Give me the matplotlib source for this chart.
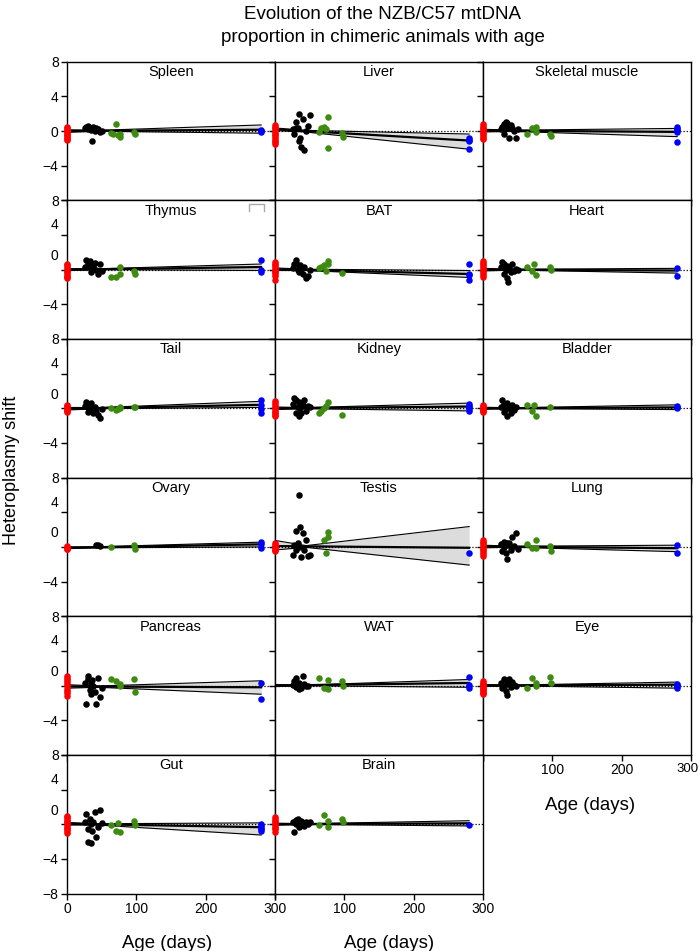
import numpy as np
import matplotlib
matplotlib.use("Agg")
import matplotlib.pyplot as plt
import matplotlib.transforms as mtransforms

# ============================================================
# DATA
# ============================================================
nan = np.nan

# ages (days) shared by the sampled animals
black_age = [26, 28, 30, 31, 33, 34, 35, 36, 38, 40, 42, 44, 47, 50]
green_age = [64, 67, 70, 73, 76, 77, 96, 98]
blue_age = 280
band_x = [0, 45, 280]
line_x = [0, 280]

spleen_red = [0.45, 0.3, 0.15, 0.0, -0.15, -0.3, -0.45, -0.6, -0.75, -0.9, -1.05]
spleen_black = [0.3, 0.5, 0.2, 0.6, 0.4, 0.1, 0.3, -1.2, 0.5, 0.0, 0.4, 0.2, -0.1, 0.0]
spleen_green = [-0.2, -0.3, 0.8, -0.5, -0.7, -0.3, -0.1, -0.4]
spleen_blue = [0.15, 0.0, -0.1]
spleen_fit = [0.0, 0.15]
spleen_hi = [0.15, 0.08, 0.7]
spleen_lo = [-0.15, -0.03, -0.25]

liver_red = [0.7, 0.5, 0.3, 0.1, -0.1, -0.3, -0.5, -0.7, -0.9, -1.1, -1.3, -1.5]
liver_black = [0.2, -0.3, 1.0, 0.4, 0.35, -1.1, 2.0, -0.8, -1.9, 1.4, -2.15, 0.0, 0.6, 1.8]
liver_green = [-0.15, 0.3, 0.5, 0.25, 1.65, -2.0, -0.25, -0.65]
liver_blue = [-0.8, -1.0, -1.1, -2.1]
liver_fit = [0.2, -1.1]
liver_hi = [0.35, 0.08, -0.35]
liver_lo = [0.05, -0.12, -2.1]

muscle_red = [0.8, 0.6, 0.4, 0.2, 0.0, -0.2, -0.4, -0.6, -0.8, -0.9]
muscle_black = [0.2, 0.5, 0.8, -0.3, 1.0, 0.6, 0.9, 0.3, -0.8, 0.7, 0.4, 0.0, -0.8, 0.2]
muscle_green = [-0.4, nan, 0.4, nan, 0.5, -0.15, -0.35, -0.55]
muscle_blue = [0.5, 0.25, 0.1, -0.15, -1.3]
muscle_fit = [0.05, -0.1]
muscle_hi = [0.2, 0.1, 0.3]
muscle_lo = [-0.1, -0.05, -0.65]

thymus_red = [0.7, 0.5, 0.3, 0.1, -0.1, -0.3, -0.5, -0.7, -0.9, -1.0]
thymus_black = [0.3, 1.15, 0.9, 0.5, 1.0, 0.2, -0.3, 0.7, 0.4, 0.8, 0.0, -0.45, 0.6, -0.2]
thymus_green = [-0.8, nan, -0.9, nan, -0.5, 0.3, -0.1, -0.5]
thymus_blue = [1.15, 0.0, -0.3]
thymus_fit = [0.0, 0.3]
thymus_hi = [0.12, 0.1, 0.65]
thymus_lo = [-0.12, 0.0, -0.1]

bat_red = [0.9, 0.7, 0.5, 0.3, 0.1, -0.1, -0.3, -0.5, -0.7, -1.2]
bat_black = [0.2, 0.6, 1.1, 0.8, 0.0, 0.4, -0.3, 0.5, 0.1, -0.5, 0.3, -0.95, -0.7, 0.0]
bat_green = [0.2, 0.3, 0.5, -0.1, 1.0, 0.6, -0.4, nan]
bat_blue = [0.6, -0.45, -0.65, -1.2]
bat_fit = [0.05, -0.5]
bat_hi = [0.2, 0.05, -0.1]
bat_lo = [-0.1, -0.1, -0.9]

heart_red = [1.0, 0.8, 0.6, 0.4, 0.2, 0.0, -0.2, -0.4, -0.6, -0.85]
heart_black = [0.3, 0.9, -0.5, 0.6, 0.0, -1.0, 0.4, -1.4, 0.2, -0.3, 0.7, -0.2, 0.1, 0.0]
heart_green = [0.3, nan, -0.1, 0.7, -0.6, nan, 0.3, 0.0]
heart_blue = [0.2, -0.75]
heart_fit = [0.0, -0.1]
heart_hi = [0.15, 0.05, 0.15]
heart_lo = [-0.15, -0.05, -0.4]

tail_red = [0.4, 0.25, 0.1, -0.05, -0.2, -0.35, -0.45]
tail_black = [0.3, 0.7, 0.1, -0.4, 0.5, -0.2, 0.6, 0.0, -0.6, 0.2, -0.3, -0.8, -1.1, -0.1]
tail_green = [0.0, nan, -0.2, -0.1, 0.2, 0.0, 0.1, 0.1]
tail_blue = [0.9, 0.4, -0.1, -0.55]
tail_fit = [-0.05, 0.4]
tail_hi = [0.1, 0.08, 0.8]
tail_lo = [-0.2, -0.05, 0.1]

kidney_red = [0.8, 0.6, 0.4, 0.2, 0.0, -0.2, -0.4, -0.6, -0.8, -0.9]
kidney_black = [0.5, 1.2, -0.5, 0.9, 0.2, -0.9, 0.7, 0.0, -0.6, 0.4, 1.0, -0.3, 0.3, 0.1]
kidney_green = [-0.55, -0.35, 0.0, 0.3, 0.7, nan, -0.75, nan]
kidney_blue = [0.5, 0.3, 0.1, -0.1, -0.35]
kidney_fit = [0.0, 0.2]
kidney_hi = [0.15, 0.08, 0.6]
kidney_lo = [-0.15, -0.05, -0.3]

bladder_red = [0.4, 0.25, 0.1, -0.05, -0.2, -0.35, -0.45]
bladder_black = [0.2, 0.9, -0.4, 0.5, -0.1, 0.6, -0.9, 0.3, 0.0, -0.6, 0.4, -0.2, 0.1, nan]
bladder_green = [0.4, nan, -0.35, 0.4, -0.9, nan, 0.15, nan]
bladder_blue = [0.3, 0.15, 0.0]
bladder_fit = [0.0, 0.1]
bladder_hi = [0.12, 0.06, 0.4]
bladder_lo = [-0.12, -0.04, -0.15]

ovary_red = [0.1, -0.05, -0.2, -0.25]
ovary_black = [nan, nan, nan, nan, nan, nan, nan, nan, nan, nan, 0.25, 0.2, 0.1, nan]
ovary_green = [0.0, nan, nan, nan, nan, nan, 0.2, -0.2]
ovary_blue = [0.6, 0.3, -0.1]
ovary_fit = [-0.1, 0.3]
ovary_hi = [0.0, 0.02, 0.55]
ovary_lo = [-0.2, -0.1, 0.0]

testis_red = [0.4, 0.25, 0.1, -0.05, -0.2, -0.35, -0.45]
testis_black = [-0.9, 0.2, -0.3, 1.8, 0.5, 0.0, 6.0, 2.35, -1.2, 1.6, -0.4, 0.8, -1.1, -0.9]
testis_green = [nan, nan, 0.8, -0.65, 1.7, 1.2, nan, nan]
testis_blue = [-0.65]
testis_fit = [0.1, -0.1]
testis_hi = [0.75, 0.15, 2.35]
testis_lo = [-0.35, -0.05, -2.1]

lung_red = [0.8, 0.6, 0.4, 0.2, 0.0, -0.2, -0.4, -0.6, -0.8, -1.1]
lung_black = [0.3, -0.5, 0.6, 0.0, -0.75, 0.4, -1.4, 0.2, 0.5, -0.3, 1.2, 0.1, 1.6, -0.2]
lung_green = [0.35, nan, -0.1, nan, 0.8, -0.1, 0.1, -0.45]
lung_blue = [0.2, -0.65]
lung_fit = [0.05, -0.15]
lung_hi = [0.2, 0.08, 0.2]
lung_lo = [-0.1, -0.04, -0.55]

pancreas_red = [1.15, 0.9, 0.65, 0.4, 0.15, -0.1, -0.35, -0.6, -0.85, -1.15]
pancreas_black = [0.3, -2.1, 1.1, 0.8, -0.5, 0.2, -1.0, 0.6, 0.0, -0.7, -2.1, 0.9, -1.35, -0.3]
pancreas_green = [0.8, nan, 0.5, nan, 0.2, 0.0, 0.8, -0.75]
pancreas_blue = [0.3, -1.5]
pancreas_fit = [-0.1, -0.2]
pancreas_hi = [0.1, -0.05, 0.55]
pancreas_lo = [-0.3, -0.2, -1.0]

wat_red = []
wat_black = [0.1, 0.5, -0.2, 0.9, 0.0, -0.45, 0.3, 0.1, -0.3, 1.1, 0.2, -0.1, 0.0, nan]
wat_green = [0.9, nan, -0.25, nan, 0.6, -0.45, 0.5, -0.1]
wat_blue = [1.0, 0.1, -0.25]
wat_fit = [0.0, 0.3]
wat_hi = [0.12, 0.06, 0.7]
wat_lo = [-0.12, -0.03, -0.2]

eye_red = [0.5, 0.35, 0.2, 0.05, -0.1, -0.25, -0.4, -0.55, -0.7, -0.85, -1.0]
eye_black = [0.3, -0.3, 0.7, 0.0, -0.65, 0.5, -1.1, 0.2, 0.8, -0.2, 0.4, 0.1, -0.1, nan]
eye_green = [-0.25, nan, 0.9, nan, 0.3, -0.1, 1.0, 0.3]
eye_blue = [0.2, 0.05, -0.1, -0.25]
eye_fit = [0.0, 0.1]
eye_hi = [0.12, 0.06, 0.4]
eye_lo = [-0.12, -0.04, -0.3]

gut_red = [1.0, 0.8, 0.6, 0.4, 0.2, 0.0, -0.2, -0.4, -0.6, -0.8, -1.0]
gut_black = [0.2, 1.15, -2.0, -0.5, 0.6, -2.15, 0.0, -0.8, 0.3, 1.45, -1.5, -0.3, 1.65, 0.1]
gut_green = [-0.15, nan, -0.75, 0.15, -0.9, nan, 0.4, -0.15]
gut_blue = [0.0, -0.2, -0.4, -0.6, -0.75]
gut_fit = [0.05, -0.35]
gut_hi = [0.2, 0.05, 0.15]
gut_lo = [-0.1, -0.1, -1.25]

brain_red = [0.8, 0.6, 0.4, 0.2, 0.0, -0.2, -0.4, -0.6, -0.9]
brain_black = [0.2, -0.85, 0.5, 0.0, 0.55, -0.3, 0.3, -0.1, 0.4, 0.1, -0.2, 0.3, 0.0, 0.2]
brain_green = [-0.1, nan, 1.1, nan, 0.4, -0.35, 0.6, 0.3]
brain_blue = [-0.1]
brain_fit = [0.0, 0.1]
brain_hi = [0.12, 0.06, 0.4]
brain_lo = [-0.12, -0.04, -0.2]

panels = [
    ("Spleen", spleen_red, spleen_black, spleen_green, spleen_blue, spleen_fit, spleen_hi, spleen_lo),
    ("Liver", liver_red, liver_black, liver_green, liver_blue, liver_fit, liver_hi, liver_lo),
    ("Skeletal muscle", muscle_red, muscle_black, muscle_green, muscle_blue, muscle_fit, muscle_hi, muscle_lo),
    ("Thymus", thymus_red, thymus_black, thymus_green, thymus_blue, thymus_fit, thymus_hi, thymus_lo),
    ("BAT", bat_red, bat_black, bat_green, bat_blue, bat_fit, bat_hi, bat_lo),
    ("Heart", heart_red, heart_black, heart_green, heart_blue, heart_fit, heart_hi, heart_lo),
    ("Tail", tail_red, tail_black, tail_green, tail_blue, tail_fit, tail_hi, tail_lo),
    ("Kidney", kidney_red, kidney_black, kidney_green, kidney_blue, kidney_fit, kidney_hi, kidney_lo),
    ("Bladder", bladder_red, bladder_black, bladder_green, bladder_blue, bladder_fit, bladder_hi, bladder_lo),
    ("Ovary", ovary_red, ovary_black, ovary_green, ovary_blue, ovary_fit, ovary_hi, ovary_lo),
    ("Testis", testis_red, testis_black, testis_green, testis_blue, testis_fit, testis_hi, testis_lo),
    ("Lung", lung_red, lung_black, lung_green, lung_blue, lung_fit, lung_hi, lung_lo),
    ("Pancreas", pancreas_red, pancreas_black, pancreas_green, pancreas_blue, pancreas_fit, pancreas_hi, pancreas_lo),
    ("WAT", wat_red, wat_black, wat_green, wat_blue, wat_fit, wat_hi, wat_lo),
    ("Eye", eye_red, eye_black, eye_green, eye_blue, eye_fit, eye_hi, eye_lo),
    ("Gut", gut_red, gut_black, gut_green, gut_blue, gut_fit, gut_hi, gut_lo),
    ("Brain", brain_red, brain_black, brain_green, brain_blue, brain_fit, brain_hi, brain_lo),
]

# ============================================================
# STYLE
# ============================================================
plt.rcParams["font.family"] = ["Liberation Sans", "DejaVu Sans"]
plt.rcParams["axes.linewidth"] = 1.0

c_red = "#ff0000"
c_green = "#3f8a10"
c_blue = "#0000ff"
dot = 22

# x position of the "Age (days)" label inside each column (axes fraction)
xlabel_pos = [0.48, 0.548, 0.514]


def shift_label(label, dx_px, dy_px):
    label.set_transform(label.get_transform() +
                        mtransforms.ScaledTranslation(dx_px / 100, dy_px / 100, fig.dpi_scale_trans))


# ============================================================
# FIGURE
# ============================================================
fig, axes = plt.subplots(6, 3, figsize=(7.0, 9.51), dpi=100)
fig.subplots_adjust(left=67 / 700, right=691 / 700, top=1 - 61.7 / 951, bottom=1 - 893.5 / 951,
                    hspace=0, wspace=0)

yticks = [-8, -4, 0, 4, 8]
xticks = [0, 100, 200, 300]

for i, ax in enumerate(axes.ravel()):
    row, col = divmod(i, 3)
    ax.set_xlim(0, 300)
    ax.set_ylim(-8, 8)
    ax.set_xticks(xticks)
    ax.set_yticks(yticks)
    ax.tick_params(direction="out", length=4, width=1, labelsize=10, pad=2)

    if i >= len(panels):
        ax.axis("off")
        continue

    name, red, black, green, blue, fit, hi, lo = panels[i]

    ax.fill_between(band_x, lo, hi, color="#dcdcdc", lw=0, zorder=1)
    ax.plot(band_x, hi, color="k", lw=0.8, zorder=2)
    ax.plot(band_x, lo, color="k", lw=0.8, zorder=2)
    ax.plot(line_x, fit, color="k", lw=1.6, zorder=3)
    ax.axhline(0, color="k", ls=(0, (1, 1.5)), lw=0.9, zorder=4)

    ax.scatter(np.zeros(len(red)), red, s=dot, c=c_red, lw=0, zorder=6, clip_on=False)
    ax.scatter(black_age, black, s=dot, c="k", lw=0, zorder=5, clip_on=False)
    ax.scatter(green_age, green, s=dot, c=c_green, lw=0, zorder=5, clip_on=False)
    ax.scatter(np.full(len(blue), blue_age), blue, s=dot, c=c_blue, lw=0, zorder=6, clip_on=False)

    ax.text(0.5, 0.975, name, transform=ax.transAxes, ha="center", va="top", fontsize=10.5)

    # y tick labels only in the first column
    if col == 0:
        labels = ["\u22128" if row == 5 else "", "\u22124", "0", "4", "8"]
        ax.set_yticklabels(labels)
        if row > 0:
            # the source figure has the "0" and "4" labels sitting higher than their ticks
            ticks = ax.yaxis.get_major_ticks()
            shift_label(ticks[2].label1, 0, 15)
            shift_label(ticks[3].label1, 0, 11)
    else:
        ax.set_yticklabels([])

    # x tick labels only on the lowest panel of each column
    last_in_col = (row == 5) or (row == 4 and col == 2)
    if last_in_col:
        ax.set_xticklabels(["0" if col == 0 else "", "100", "200", "300"])
        ax.set_xlabel("Age (days)", fontsize=13.4, labelpad=14)
        ax.xaxis.label.set_x(xlabel_pos[col])
        if col == 2:
            # keep the right-most "300" inside the canvas
            lab = ax.xaxis.get_major_ticks()[3].label1
            lab.set_fontsize(9.5)
            shift_label(lab, -3, 0)
    else:
        ax.set_xticklabels([])

# small grey bracket drawn in the top right corner of the Thymus panel
axes[1, 0].plot([263, 263, 284, 284], [0.925, 0.975, 0.975, 0.925], color="#aaaaaa", lw=1,
                transform=axes[1, 0].get_xaxis_transform(), clip_on=False)

fig.text(12 / 700, 1 - 470 / 951, "Heteroplasmy shift", rotation=90, ha="center", va="center",
         fontsize=13)
fig.text(383 / 700, 0.994, "Evolution of the NZB/C57 mtDNA\nproportion in chimeric animals with age",
         ha="center", va="top", fontsize=13.5, linespacing=1.45)

fig.savefig("out.png", dpi=100)
